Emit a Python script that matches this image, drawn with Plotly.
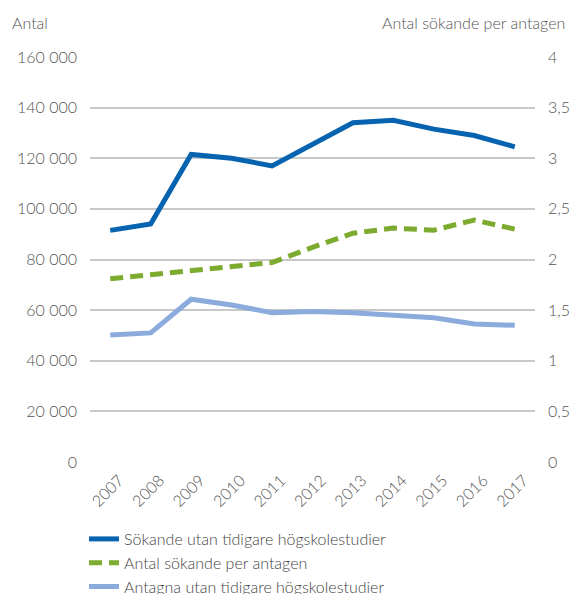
import plotly.graph_objects as go

years = ["2007", "2008", "2009", "2010", "2011", "2012", "2013", "2014", "2015", "2016", "2017"]
sokande = [91500, 94000, 121500, 120000, 117000, 125500, 134000, 135000, 131500, 129000, 124500]
per_antagen = [1.81, 1.85, 1.89, 1.94, 1.97, 2.12, 2.26, 2.31, 2.29, 2.39, 2.30]
antagna = [50200, 51000, 64300, 62000, 59000, 59500, 59000, 58000, 57000, 54500, 54000]

left_ticks = [0, 20000, 40000, 60000, 80000, 100000, 120000, 140000, 160000]
right_ticks = [0, 0.5, 1, 1.5, 2, 2.5, 3, 3.5, 4]

FONT = "Lato"
GRAY = "#555555"
W, H = 571, 594
L, R, T, B = 90, 36, 57, 132

fig = go.Figure()
fig.add_trace(go.Scatter(x=years, y=sokande, mode="lines", name="Sökande utan tidigare högskolestudier",
                         line=dict(color="#0563b0", width=5)))
fig.add_trace(go.Scatter(x=years, y=per_antagen, mode="lines", name="Antal sökande per antagen",
                         yaxis="y2", line=dict(color="#7dab2f", width=5, dash="13px,7px")))
fig.add_trace(go.Scatter(x=years, y=antagna, mode="lines", name="Antagna utan tidigare högskolestudier",
                         line=dict(color="#8aabdc", width=5)))

tf = dict(family=FONT, size=16, color=GRAY, weight=300)

fig.update_layout(
    width=W, height=H,
    margin=dict(l=L, r=R, t=T, b=B, autoexpand=False),
    paper_bgcolor="white", plot_bgcolor="white",
    separators=", ",
    font=tf,
    showlegend=True,
    legend=dict(orientation="v", xref="container", x=84 / W, xanchor="left",
                yref="container", y=1 - 522 / H, yanchor="top",
                font=dict(family=FONT, size=16, color="#444444", weight=300),
                tracegroupgap=0, itemwidth=30, bgcolor="rgba(0,0,0,0)"),
    xaxis=dict(type="category", range=[-0.5, 10.5], tickangle=-45, showgrid=False, automargin=False,
               showline=False, zeroline=False, ticks="", tickfont=tf,
               ticklabelshift=9, ticklabelstandoff=5),
    yaxis=dict(range=[0, 160000], tickvals=left_ticks, tickformat=",d", showgrid=True, automargin=False,
               gridcolor="#c8c8c8", gridwidth=1.5, zeroline=False, showline=False, ticks="",
               ticklabelstandoff=12, tickfont=tf),
    yaxis2=dict(range=[0, 4], tickvals=right_ticks, overlaying="y", side="right", showgrid=False,
                automargin=False, zeroline=False, showline=False, ticks="", ticklabelstandoff=12,
                tickfont=tf),
    annotations=[
        dict(text="Antal", x=10 / W, y=1 - 22 / H, xref="paper", yref="paper", showarrow=False,
             font=tf, xanchor="left", yanchor="middle"),
        dict(text="Antal sökande per antagen", x=567 / W, y=1 - 22 / H, xref="paper", yref="paper",
             showarrow=False, font=tf, xanchor="right", yanchor="middle"),
    ],
)

pw = W - L - R
ph = H - T - B
for a in fig.layout.annotations:
    a.x = (a.x * W - L) / pw
    a.y = ((a.y * H) - B) / ph

fig.write_html("out.html", config={"displayModeBar": False},
               post_script="document.body.style.margin='0';document.body.style.overflow='hidden';")
